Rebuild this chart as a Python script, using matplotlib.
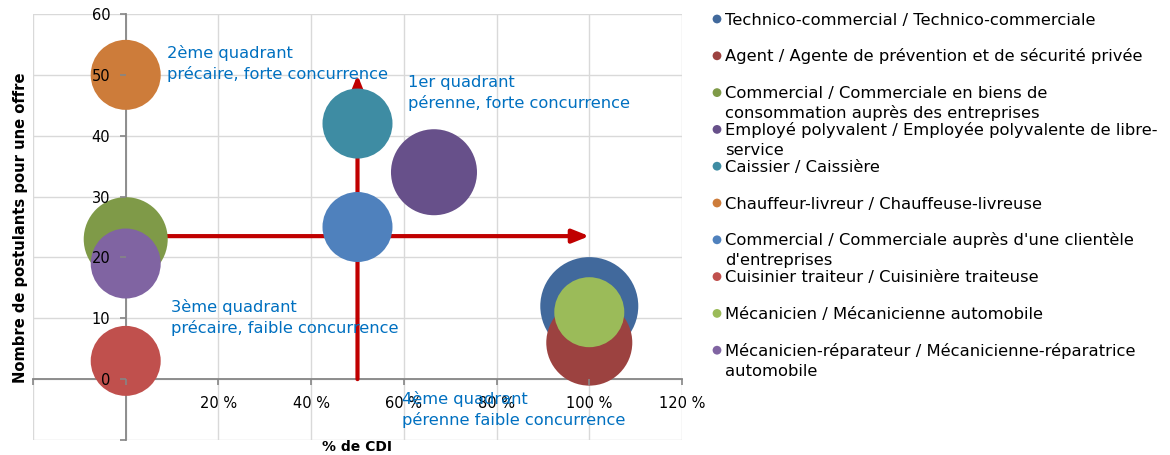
import matplotlib
matplotlib.use("Agg")
import matplotlib.pyplot as plt

plt.rcParams['font.family'] = ['DejaVu Sans']

# ---- data ----
names = [
    "Technico-commercial / Technico-commerciale",
    "Agent / Agente de prévention et de sécurité privée",
    "Commercial / Commerciale en biens de\nconsommation auprès des entreprises",
    "Employé polyvalent / Employée polyvalente de libre-\nservice",
    "Caissier / Caissière",
    "Chauffeur-livreur / Chauffeuse-livreuse",
    "Commercial / Commerciale auprès d'une clientèle\nd'entreprises",
    "Cuisinier traiteur / Cuisinière traiteuse",
    "Mécanicien / Mécanicienne automobile",
    "Mécanicien-réparateur / Mécanicienne-réparatrice\nautomobile",
]
pct_cdi = [1.00, 1.00, 0.00, 0.665, 0.50, 0.00, 0.50, 0.00, 1.00, 0.00]
postulants = [12, 6, 23, 34, 42, 50, 25, 3, 11, 19]
bubble_size = [19.6, 15.1, 14.4, 15.1, 10, 10, 10, 10, 10, 10]
colors = ["#41699C", "#9C4240", "#7F9A48", "#67508A", "#3E8CA3",
          "#CD7C3A", "#4F81BD", "#C0504D", "#9BBB59", "#8064A2"]

x_ticks = [-0.2, 0.0, 0.2, 0.4, 0.6, 0.8, 1.0, 1.2]
x_labels = ["", "", "20 %", "40 %", "60 %", "80 %", "100 %", "120 %"]
y_ticks = [-10, 0, 10, 20, 30, 40, 50, 60]
y_labels = ["", "0", "10", "20", "30", "40", "50", "60"]

h_arrow = [(0.0, 23.5), (1.0, 23.5)]
v_arrow = [(0.5, 0.0), (0.5, 50.0)]

quadrants = [
    ("2ème quadrant\nprécaire, forte concurrence", 0.088, 52.7),
    ("1er quadrant\npérenne, forte concurrence", 0.609, 48.0),
    ("3ème quadrant\nprécaire, faible concurrence", 0.097, 11.0),
    ("4ème quadrant\npérenne faible concurrence", 0.595, -4.1),
]

# ---- figure ----
fig = plt.figure(figsize=(11.7, 4.55), dpi=100)
ax = fig.add_axes([33 / 1170, 1 - 440 / 455, (682 - 33) / 1170, (440 - 14) / 455])
ax.set_xlim(x_ticks[0], x_ticks[-1])
ax.set_ylim(y_ticks[0], y_ticks[-1])
ax.set_axisbelow(False)

for xt in x_ticks:
    ax.axvline(xt, color="#D9D9D9", lw=1.0, zorder=0.5)
for yt in y_ticks:
    ax.axhline(yt, color="#D9D9D9", lw=1.0, zorder=0.5)

for s in ["top", "right"]:
    ax.spines[s].set_visible(False)
ax.spines["left"].set_position(("data", 0))
ax.spines["bottom"].set_position(("data", 0))
for s in ["left", "bottom"]:
    ax.spines[s].set_color("#868686")
    ax.spines[s].set_linewidth(1.3)
    ax.spines[s].set_zorder(1.2)

ax.set_xticks(x_ticks)
ax.set_xticklabels(x_labels)
ax.set_yticks(y_ticks)
ax.set_yticklabels(y_labels)
ax.tick_params(axis="both", colors="#868686", labelcolor="black", labelsize=10.5,
               length=4, width=1.2)
ax.tick_params(axis="x", pad=8)
ax.tick_params(axis="y", pad=7)

# arrows
for (a, b) in [h_arrow, v_arrow]:
    ax.annotate("", xy=b, xytext=a,
                arrowprops=dict(arrowstyle="-|>,head_length=0.5,head_width=0.2",
                                color="#C00000", lw=3, mutation_scale=20,
                                shrinkA=0, shrinkB=0),
                zorder=1.5)

# bubbles
k = 254
for i in range(len(names)):
    ax.scatter([pct_cdi[i]], [postulants[i]], s=bubble_size[i] * k,
               color=colors[i], edgecolors="none", zorder=2)

line_step_pt = 21 * 72 / 100  # ~21 px between lines
for txt, xq, yq in quadrants:
    for j, line in enumerate(txt.split("\n")):
        ax.annotate(line, xy=(xq, yq), xytext=(0, -j * line_step_pt),
                    textcoords="offset points", color="#0070C0", fontsize=11.7,
                    ha="left", va="baseline", zorder=3)

fig.text(357 / 1170, 1 - 447 / 455, "% de CDI", fontsize=10, fontweight="bold",
         ha="center", va="center")
fig.text(21 / 1170, 1 - 228 / 455, "Nombre de postulants pour une offre",
         fontsize=10.6, fontweight="bold", rotation=90, ha="center", va="center")

# legend (manual, figure pixel coords)
leg = fig.add_axes([0, 0, 1, 1])
leg.set_xlim(0, 1170)
leg.set_ylim(455, 0)
leg.axis("off")
for i, name in enumerate(names):
    yc = 19 + 36.8 * i
    leg.scatter([717], [yc], s=40, color=colors[i], edgecolors="none")
    for j, line in enumerate(name.split("\n")):
        leg.text(725, yc + 5.5 + 20 * j, line, fontsize=11.8, ha="left",
                 va="baseline")

fig.savefig("out.png", dpi=100)
